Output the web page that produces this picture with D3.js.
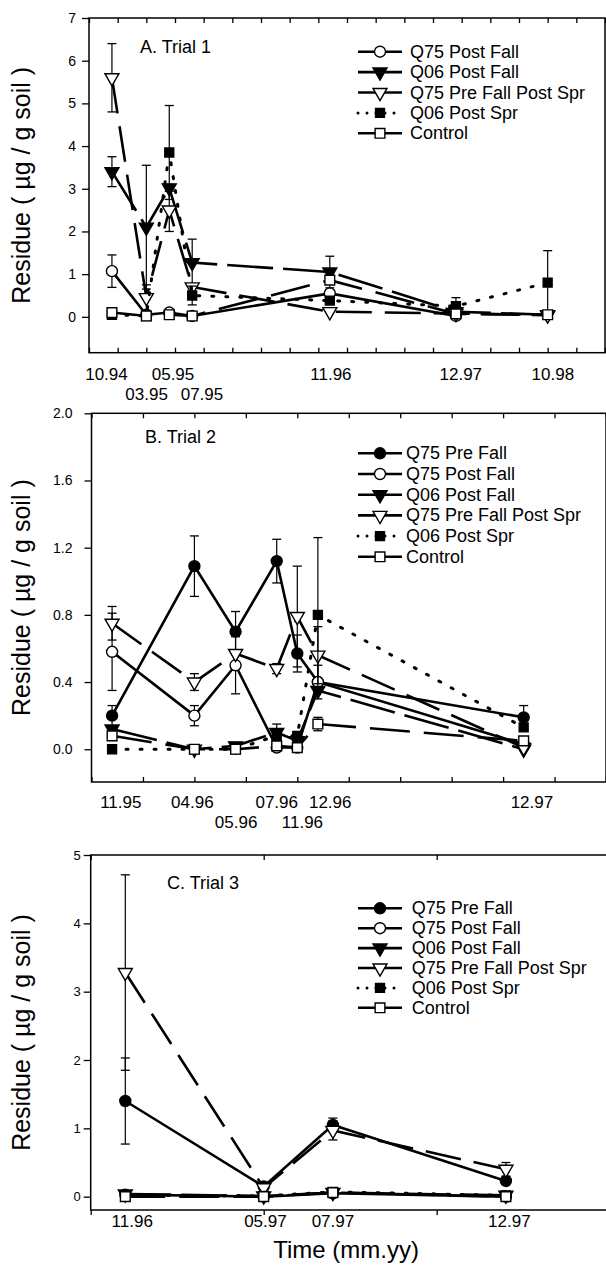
<!DOCTYPE html>
<html>
<head>
<meta charset="utf-8">
<script src="https://cdn.jsdelivr.net/npm/d3@7"></script>
<style>
  body { margin: 0; background: #fff; }
  svg { display: block; }
  text { font-family: "Liberation Sans", Arial, sans-serif; fill: #000; }
</style>
</head>
<body>
<svg width="606" height="1271"></svg>
<script>
// series in legend order
var seriesNames = ["Q75 Pre Fall", "Q75 Post Fall", "Q06 Post Fall", "Q75 Pre Fall Post Spr", "Q06 Post Spr", "Control"];
var seriesDash = [null, null, "46,10", "36,13", "2,12", "40,14"];
var seriesShape = ["circle", "circle", "tri", "tri", "square", "square"];
var seriesFill = ["#000", "#fff", "#000", "#fff", "#000", "#fff"];

// A. Trial 1 -- sampling positions and labels
var aX = [80, 200, 280, 360, 840, 1280, 1600];
var aTickLabels = ["10.94", "03.95", "05.95", "07.95", "11.96", "12.97", "10.98"];
var aTickLabelX = [61, 201, 293, 394, 844, 1297, 1618];
var aTickRow = [0, 1, 0, 1, 0, 0, 0];
var aQ75Post = [1.07, 0.05, 0.10, 0.02, 0.55, 0.02, null];
var aQ75PostErr = [0.38, 0, 0, 0, 0.08, 0, 0];
var aQ06Post = [3.40, 2.10, 3.02, 1.27, 1.05, 0.12, 0.05];
var aQ06PostErr = [0.35, 1.45, 0.08, 0.55, 0.37, 0, 0];
var aQ75PFPS = [5.60, 0.45, 2.50, 0.70, 0.12, 0.08, 0.04];
var aQ75PFPSErr = [0.80, 0.30, 0.50, 0, 0, 0, 0];
var aQ06Spr = [0.05, 0.02, 3.85, 0.50, 0.38, 0.25, 0.80];
var aQ06SprErr = [0, 0, 1.10, 0.22, 0, 0.20, 0.75];
var aControl = [0.10, 0.02, 0.05, 0.02, 0.86, 0.07, 0.05];
var aControlErr = [0, 0, 0, 0, 0, 0, 0];
var aYTicks = [0, 1, 2, 3, 4, 5, 6, 7];

// B. Trial 2
var bX = [40, 200, 280, 360, 400, 440, 840];
var bTickLabels = ["11.95", "04.96", "05.96", "07.96", "11.96", "12.96", "12.97"];
var bTickLabelX = [57, 196, 281, 360, 410, 464, 856];
var bTickRow = [0, 0, 1, 0, 1, 0, 0];
var bQ75Pre = [0.20, 1.09, 0.70, 1.12, 0.57, 0.40, 0.19];
var bQ75PreErr = [0.06, 0.18, 0.12, 0.13, 0.11, 0, 0.07];
var bQ75Post = [0.58, 0.20, 0.50, 0.01, 0.01, 0.40, 0.03];
var bQ75PostErr = [0.23, 0.06, 0.17, 0, 0, 0.10, 0];
var bQ06Post = [0.12, 0.00, 0.02, 0.10, 0.05, 0.35, 0.00];
var bQ06PostErr = [0, 0, 0, 0.05, 0, 0, 0];
var bQ75PFPS = [0.75, 0.40, 0.57, 0.48, 0.79, 0.56, 0.01];
var bQ75PFPSErr = [0.10, 0.05, 0, 0.03, 0.30, 0.17, 0];
var bQ06Spr = [0.00, 0.00, 0.00, 0.08, 0.08, 0.80, 0.13];
var bQ06SprErr = [0, 0, 0, 0, 0, 0.46, 0];
var bControl = [0.08, 0.00, 0.00, 0.02, 0.01, 0.15, 0.05];
var bControlErr = [0, 0, 0, 0, 0, 0.04, 0];
var bYTicks = [0, 0.4, 0.8, 1.2, 1.6, 2.0];

// C. Trial 3
var cX = [20, 100, 140, 240];
var cTickLabels = ["11.96", "05.97", "07.97", "12.97"];
var cTickLabelX = [24, 101, 140, 242];
var cTickRow = [0, 0, 0, 0];
var cQ75Pre = [1.40, 0.15, 1.05, 0.23];
var cQ75PreErr = [0.63, 0, 0.10, 0];
var cQ75Post = [0.03, 0.00, 0.05, 0.00];
var cQ06Post = [0.04, 0.01, 0.06, 0.02];
var cQ75PFPS = [3.28, 0.13, 0.97, 0.40];
var cQ75PFPSErr = [1.43, 0, 0.14, 0.10];
var cQ06Spr = [0.02, 0.01, 0.07, 0.02];
var cControl = [0.00, 0.00, 0.06, 0.00];
var cZeroErr = [0, 0, 0, 0];
var cYTicks = [0, 1, 2, 3, 4, 5];

var svg = d3.select("svg");

function makeSeries(xs, idx, vals, errs) {
  return {idx: idx, pts: xs.map(function(x, i) {
    return {x: x, y: vals[i], e: errs[i]};
  }).filter(function(d) { return d.y != null; })};
}

function shapePath(shape, filled) {
  if (shape === "circle") return d3.symbol(d3.symbolCircle, 95)();
  if (shape === "tri") return d3.symbol(d3.symbolTriangle, 85)();
  return d3.symbol(d3.symbolSquare, filled ? 80 : 95)();
}

function drawMarker(g, idx, cx, cy) {
  var m = g.append("path")
    .attr("d", shapePath(seriesShape[idx], seriesFill[idx] === "#000"))
    .attr("fill", seriesFill[idx])
    .attr("stroke", "#000")
    .attr("stroke-width", 1.4);
  var t = "translate(" + cx + "," + cy + ")";
  if (seriesShape[idx] === "tri") t += " rotate(180)";
  m.attr("transform", t);
}

function drawPanel(p) {
  var x = d3.scaleLinear().domain(p.xDomain).range([p.left, p.right]);
  var y = d3.scaleLinear().domain(p.yDomain).range([p.bottom, p.top]);
  var g = svg.append("g");
  var xTicks = d3.range(p.xDomain[0], p.xDomain[1] + 1, p.xStep);

  g.append("g")
    .attr("transform", "translate(0," + p.bottom + ")")
    .call(d3.axisBottom(x).tickValues(xTicks).tickSize(p.xTickDir * 5).tickFormat(""))
    .call(function(s) { s.select(".domain").remove(); });
  g.append("g")
    .attr("transform", "translate(0," + p.top + ")")
    .call(d3.axisTop(x).tickValues(xTicks).tickSize(-5).tickFormat(""))
    .call(function(s) { s.select(".domain").remove(); });
  g.selectAll(".tick line").attr("stroke-width", 1.3);

  var ya = g.append("g")
    .attr("transform", "translate(" + p.left + ",0)")
    .call(d3.axisLeft(y).tickValues(p.yTicks).tickSize(7).tickPadding(p.yPad)
      .tickFormat(p.yFormat));
  ya.select(".domain").remove();
  ya.selectAll(".tick line").attr("stroke-width", 1.3);
  ya.selectAll("text").style("font-size", p.yFont + "px");

  g.append("rect")
    .attr("x", p.left).attr("y", p.top)
    .attr("width", p.right - p.left).attr("height", p.bottom - p.top)
    .attr("fill", "none").attr("stroke", "#000").attr("stroke-width", 1.5);

  var line = d3.line().x(function(d) { return x(d.x); }).y(function(d) { return y(d.y); });

  p.series.forEach(function(s) {
    var idx = s.idx;
    g.append("path").datum(s.pts)
      .attr("d", line)
      .attr("fill", "none")
      .attr("stroke", "#000")
      .attr("stroke-width", idx === 4 ? 3 : 2.6)
      .attr("stroke-linecap", idx === 4 ? "round" : "butt")
      .attr("stroke-dasharray", seriesDash[idx]);
    s.pts.forEach(function(d) {
      if (!d.e) return;
      var cx = x(d.x), y0 = y(d.y - d.e), y1 = y(d.y + d.e);
      g.append("line").attr("x1", cx).attr("x2", cx).attr("y1", y0).attr("y2", y1)
        .attr("stroke", "#000").attr("stroke-width", 1.2);
      [y0, y1].forEach(function(yy) {
        g.append("line").attr("x1", cx - 4.5).attr("x2", cx + 4.5).attr("y1", yy).attr("y2", yy)
          .attr("stroke", "#000").attr("stroke-width", 1.3);
      });
    });
    s.pts.forEach(function(d) { drawMarker(g, idx, x(d.x), y(d.y)); });
  });

  // x tick labels, two rows
  p.tickLabels.forEach(function(t, i) {
    g.append("text")
      .attr("x", x(p.tickLabelX[i]))
      .attr("y", p.labelY + p.tickRow[i] * 20)
      .attr("text-anchor", "middle")
      .attr("dominant-baseline", "central")
      .style("font-size", "17px")
      .text(t);
  });

  g.append("text")
    .attr("transform", "translate(21," + (p.top + p.bottom) / 2 + ") rotate(-90)")
    .attr("text-anchor", "middle")
    .attr("dominant-baseline", "central")
    .style("font-size", "25px")
    .text("Residue ( \u00b5g / g soil )");

  g.append("text")
    .attr("x", p.titleX).attr("y", p.titleY)
    .attr("dominant-baseline", "central")
    .style("font-size", "18px")
    .text(p.title);

  // legend
  p.series.forEach(function(s, i) {
    var ly = p.legY + i * p.legStep;
    var idx = s.idx;
    g.append("line")
      .attr("x1", 358).attr("x2", 402).attr("y1", ly).attr("y2", ly)
      .attr("stroke", "#000")
      .attr("stroke-width", idx === 4 ? 3 : 2.6)
      .attr("stroke-linecap", idx === 4 ? "round" : "butt")
      .attr("stroke-dasharray", idx === 4 ? "0,9" : null);
    drawMarker(g, idx, 380, ly);
    g.append("text")
      .attr("x", p.legTextX).attr("y", ly)
      .attr("dominant-baseline", "central")
      .style("font-size", "18px")
      .text(seriesNames[idx]);
  });
}

drawPanel({
  left: 89, right: 605, top: 18, bottom: 352.7,
  xDomain: [0, 1800], xStep: 100, xTickDir: -1,
  yDomain: [-0.84, 7], yTicks: aYTicks, yFormat: d3.format("d"), yPad: 6, yFont: 14,
  tickLabels: aTickLabels, tickLabelX: aTickLabelX, tickRow: aTickRow, labelY: 374,
  title: "A. Trial 1", titleX: 140, titleY: 47,
  legY: 51.7, legStep: 20.4, legTextX: 410,
  series: [
    makeSeries(aX, 1, aQ75Post, aQ75PostErr),
    makeSeries(aX, 2, aQ06Post, aQ06PostErr),
    makeSeries(aX, 3, aQ75PFPS, aQ75PFPSErr),
    makeSeries(aX, 4, aQ06Spr, aQ06SprErr),
    makeSeries(aX, 5, aControl, aControlErr)
  ]
});

drawPanel({
  left: 91.5, right: 606, top: 413.3, bottom: 782,
  xDomain: [0, 1000], xStep: 100, xTickDir: -1,
  yDomain: [-0.195, 2.0], yTicks: bYTicks, yFormat: d3.format(".1f"), yPad: 12, yFont: 14,
  tickLabels: bTickLabels, tickLabelX: bTickLabelX, tickRow: bTickRow, labelY: 802,
  title: "B. Trial 2", titleX: 145, titleY: 437,
  legY: 453.3, legStep: 20.7, legTextX: 406,
  series: [
    makeSeries(bX, 0, bQ75Pre, bQ75PreErr),
    makeSeries(bX, 1, bQ75Post, bQ75PostErr),
    makeSeries(bX, 2, bQ06Post, bQ06PostErr),
    makeSeries(bX, 3, bQ75PFPS, bQ75PFPSErr),
    makeSeries(bX, 4, bQ06Spr, bQ06SprErr),
    makeSeries(bX, 5, bControl, bControlErr)
  ]
});

drawPanel({
  left: 90.7, right: 609.7, top: 855, bottom: 1210,
  xDomain: [0, 300], xStep: 100, xTickDir: 1,
  yDomain: [-0.195, 5], yTicks: cYTicks, yFormat: d3.format("d"), yPad: 3, yFont: 13,
  tickLabels: cTickLabels, tickLabelX: cTickLabelX, tickRow: cTickRow, labelY: 1221,
  title: "C. Trial 3", titleX: 167, titleY: 883,
  legY: 908.3, legStep: 19.9, legTextX: 411.7,
  series: [
    makeSeries(cX, 0, cQ75Pre, cQ75PreErr),
    makeSeries(cX, 1, cQ75Post, cZeroErr),
    makeSeries(cX, 2, cQ06Post, cZeroErr),
    makeSeries(cX, 3, cQ75PFPS, cQ75PFPSErr),
    makeSeries(cX, 4, cQ06Spr, cZeroErr),
    makeSeries(cX, 5, cControl, cZeroErr)
  ]
});

svg.append("text")
  .attr("x", 346).attr("y", 1249)
  .attr("text-anchor", "middle")
  .attr("dominant-baseline", "central")
  .style("font-size", "24px")
  .text("Time (mm.yy)");
</script>
</body>
</html>
